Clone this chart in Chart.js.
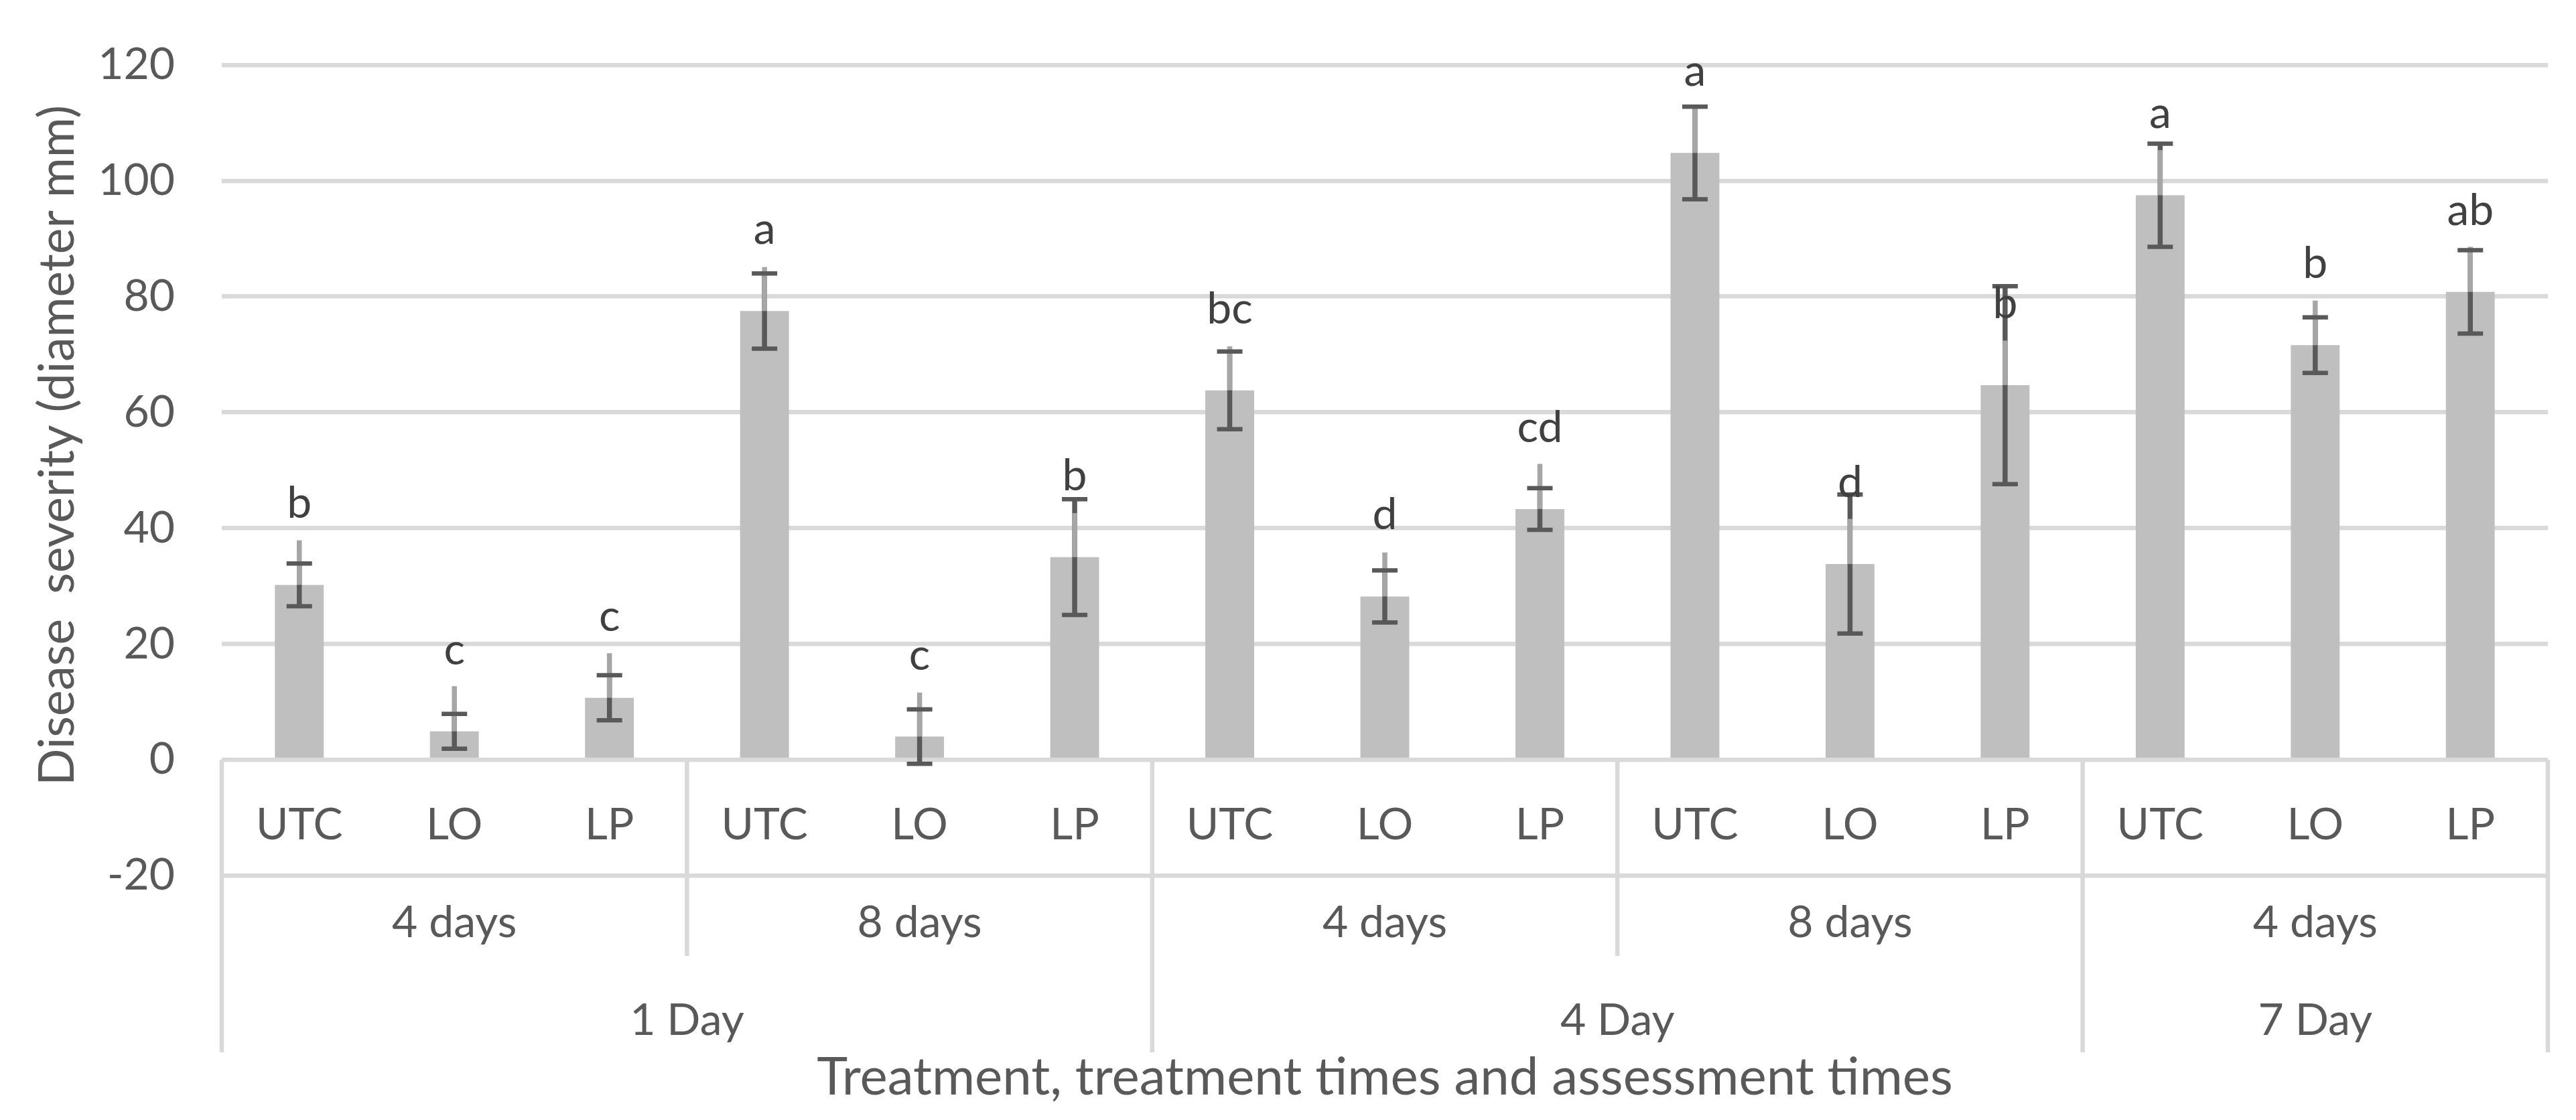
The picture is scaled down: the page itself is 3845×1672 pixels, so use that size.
<!DOCTYPE html>
<html>
<head>
<meta charset="utf-8">
<script src="https://cdn.jsdelivr.net/npm/chart.js@4.4.1/dist/chart.umd.min.js"></script>
<style>
  html, body { margin: 0; padding: 0; background: #fff; }
  canvas { display: block; }
</style>
</head>
<body>
<canvas id="chart" width="3845" height="1672"></canvas>
<script>
// Categories (three levels)
const treatments = ["UTC", "LO", "LP", "UTC", "LO", "LP", "UTC", "LO", "LP", "UTC", "LO", "LP", "UTC", "LO", "LP"];
const treatmentTimes = ["4 days", "8 days", "4 days", "8 days", "4 days"];
const assessmentTimes = ["1 Day", "4 Day", "7 Day"];
const assessmentCounts = [6, 6, 3];

// Series values
const severity = [30.2, 4.9, 10.7, 77.5, 4.0, 35.0, 63.8, 28.2, 43.3, 104.8, 33.8, 64.7, 97.5, 71.6, 80.8];
const errDark = [3.7, 3.0, 3.9, 6.5, 4.7, 10.0, 6.7, 4.5, 3.6, 8.0, 12.0, 17.1, 8.9, 4.8, 7.2];
const errLight = [7.7, 7.8, 7.7, 7.6, 7.6, 7.6, 7.6, 7.6, 7.8, 7.7, 7.8, 7.7, 7.8, 7.7, 7.8];
const letters = ["b", "c", "c", "a", "c", "b", "bc", "d", "cd", "a", "d", "b", "a", "b", "ab"];

// Y axis
const yMin = -20;
const yMax = 120;
const yStep = 20;

const FONT = "Lato";
const TEXT = "#595959";
const LINE = "#d9d9d9";

// Error bars + significance letters
const errorBarPlugin = {
    id: "errorBars",
    afterDatasetsDraw(chart) {
        const ctx = chart.ctx;
        const y = chart.scales.y;
        const bars = chart.getDatasetMeta(0).data;
        ctx.save();
        bars.forEach((bar, i) => {
            const x = bar.x;
            const v = severity[i];
            const top = y.getPixelForValue(v + errDark[i]);
            const bot = y.getPixelForValue(v - errDark[i]);
            // dark stem
            ctx.strokeStyle = "#595959";
            ctx.lineWidth = 7.5;
            ctx.beginPath();
            ctx.moveTo(x, top);
            ctx.lineTo(x, bot);
            ctx.stroke();
            // light stem (plus only)
            ctx.strokeStyle = "#a6a6a6";
            ctx.beginPath();
            ctx.moveTo(x, y.getPixelForValue(v));
            ctx.lineTo(x, y.getPixelForValue(v + errLight[i]));
            ctx.stroke();
            // caps
            ctx.strokeStyle = "#595959";
            ctx.lineWidth = 6.5;
            ctx.beginPath();
            ctx.moveTo(x - 19, top);
            ctx.lineTo(x + 19, top);
            ctx.moveTo(x - 19, bot);
            ctx.lineTo(x + 19, bot);
            ctx.stroke();
        });
        // letters
        ctx.fillStyle = "#404040";
        ctx.font = "66px " + FONT;
        ctx.textAlign = "center";
        ctx.textBaseline = "alphabetic";
        bars.forEach((bar, i) => {
            ctx.fillText(letters[i], bar.x, y.getPixelForValue(severity[i]) - 100);
        });
        ctx.restore();
    }
};

// Multi-level category table under the zero line, plus axis titles
const categoryTablePlugin = {
    id: "categoryTable",
    afterDraw(chart) {
        const ctx = chart.ctx;
        const xs = chart.scales.x;
        const area = chart.chartArea;
        const y0 = chart.scales.y.getPixelForValue(0);
        const b = area.bottom;
        const edge = (i) => {
            if (i <= 0) return area.left;
            if (i >= treatments.length) return area.right;
            return (xs.getPixelForValue(i - 1) + xs.getPixelForValue(i)) / 2;
        };
        ctx.save();
        ctx.strokeStyle = LINE;
        ctx.lineWidth = 6.5;
        ctx.beginPath();
        // outer edges
        ctx.moveTo(area.left, y0);
        ctx.lineTo(area.left, b + 264);
        ctx.moveTo(area.right, y0);
        ctx.lineTo(area.right, b + 264);
        // treatment time group separators
        for (let g = 1; g < treatmentTimes.length; g++) {
            const xe = edge(g * 3);
            ctx.moveTo(xe, y0);
            ctx.lineTo(xe, b + 120);
        }
        // assessment time separators
        let acc = 0;
        for (let k = 0; k < assessmentCounts.length - 1; k++) {
            acc += assessmentCounts[k];
            const xe = edge(acc);
            ctx.moveTo(xe, y0);
            ctx.lineTo(xe, b + 264);
        }
        ctx.stroke();

        ctx.fillStyle = TEXT;
        ctx.textAlign = "center";
        ctx.textBaseline = "alphabetic";
        ctx.font = "66px " + FONT;
        treatments.forEach((t, i) => {
            ctx.fillText(t, xs.getPixelForValue(i), b - 54);
        });
        treatmentTimes.forEach((t, g) => {
            ctx.fillText(t, (edge(g * 3) + edge(g * 3 + 3)) / 2, b + 92);
        });
        acc = 0;
        assessmentTimes.forEach((t, k) => {
            const x1 = edge(acc);
            acc += assessmentCounts[k];
            const x2 = edge(acc);
            ctx.fillText(t, (x1 + x2) / 2, b + 238);
        });
        ctx.font = "78px " + FONT;
        ctx.fillText("Treatment, treatment times and assessment times", (area.left + area.right) / 2, b + 327);

        // y axis title
        ctx.translate(86, 665);
        ctx.rotate(-Math.PI / 2);
        ctx.font = "73px " + FONT;
        ctx.textBaseline = "middle";
        ctx.fillText("Disease  severity (diameter mm)", 0, 0);
        ctx.restore();
    }
};

const chart = new Chart(document.getElementById("chart"), {
    type: "bar",
    data: {
        labels: treatments,
        datasets: [{
            label: "Disease severity",
            data: severity,
            backgroundColor: "#bfbfbf",
            borderWidth: 0,
            categoryPercentage: 1,
            barPercentage: 0.315
        }]
    },
    options: {
        responsive: false,
        animation: false,
        devicePixelRatio: 1,
        layout: { padding: { left: 0, right: 42, top: 97, bottom: 365 } },
        plugins: {
            legend: { display: false },
            tooltip: { enabled: false }
        },
        scales: {
            x: { display: false },
            y: {
                min: yMin,
                max: yMax,
                afterFit: (s) => { s.width = 331; },
                border: { display: false },
                // invisible tick marks keep the labels 70px off the plot
                grid: { color: LINE, lineWidth: 6.5, drawTicks: true, tickLength: 70, tickColor: "rgba(0,0,0,0)" },
                ticks: {
                    stepSize: yStep,
                    padding: 0,
                    color: TEXT,
                    font: { family: FONT, size: 66 }
                }
            }
        }
    },
    plugins: [errorBarPlugin, categoryTablePlugin]
});
</script>
</body>
</html>
